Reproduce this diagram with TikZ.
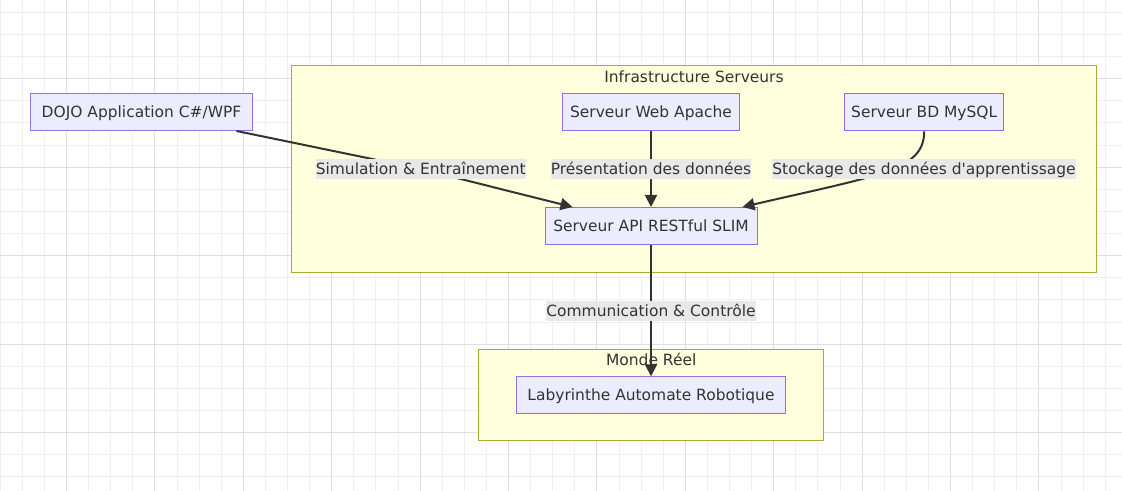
\documentclass[tikz,border=0pt]{standalone}
\usepackage{fontspec}
\setmainfont{DejaVu Sans}[Ligatures=TeXOff]
\usetikzlibrary{arrows.meta,calc}

\definecolor{gridminor}{HTML}{EFEFEF}
\definecolor{gridmajor}{HTML}{DEDEDE}
\definecolor{clusterfill}{HTML}{FFFFDE}
\definecolor{clusterline}{HTML}{AAAA33}
\definecolor{boxfill}{HTML}{ECECFF}
\definecolor{boxline}{HTML}{9370DB}
\definecolor{inkdark}{HTML}{333333}
\definecolor{labelbg}{HTML}{E8E8E8}

\begin{document}
\begin{tikzpicture}[x=0.75pt, y=-0.75pt,
    font=\fontsize{11.6pt}{13.9pt}\selectfont, text=inkdark,
    txt/.style={text height=10pt, text depth=1.5pt},
    cluster/.style={draw=clusterline, fill=clusterfill, line width=0.75pt},
    box/.style={txt, draw=boxline, fill=boxfill, line width=0.75pt,
                minimum height=27.75pt, inner sep=0pt},
    lbl/.style={txt, fill=labelbg, inner xsep=0pt, inner ysep=0pt, minimum height=15pt},
    edge/.style={draw=inkdark, line width=1.5pt, -{Triangle[length=9pt,width=9pt]}}]
    \useasboundingbox (0,0) rectangle (1122,491);

    % Background grid
    \foreach \k in {0,...,50}
        \draw[gridminor, line width=0.75pt] (0.2+22.1*\k,0) -- (0.2+22.1*\k,491);
    \foreach \k in {0,...,21}
        \draw[gridminor, line width=0.75pt] (0,12.3+22.125*\k) -- (1122,12.3+22.125*\k);
    \foreach \k in {3,7,...,47}
        \draw[gridmajor, line width=0.75pt] (0.2+22.1*\k,0) -- (0.2+22.1*\k,491);
    \foreach \k in {3,7,...,19}
        \draw[gridmajor, line width=0.75pt] (0,12.3+22.125*\k) -- (1122,12.3+22.125*\k);

    % Clusters
    \draw[cluster] (291,65.7) rectangle (1096.3,272.3);
    \node[txt, inner sep=0pt] (tinfra) at (694,76.7) {Infrastructure Serveurs};
    \draw[cluster] (478.3,349.3) rectangle (823.7,441);
    \node[txt, inner sep=0pt] (tmonde) at (651.2,360) {Monde Réel};

    % Nodes
    \node[box, minimum width=166.5pt] (dojo) at (141.5,112) {DOJO Application C\#/WPF};
    \node[box, minimum width=133pt] (apache) at (651,112.3) {Serveur Web Apache};
    \node[box, minimum width=119.25pt] (mysql) at (924.2,112.3) {Serveur BD MySQL};
    \node[box, minimum width=159pt] (api) at (651,226) {Serveur API RESTful SLIM};
    \node[box, minimum width=201.2pt] (laby) at (651,395.3) {Labyrinthe Automate Robotique};

    % Edges
    \coordinate (via1) at (420.7,169); % bend under the label
    \draw[edge] ($(dojo.south east)+(-16.5,0)$) -- (via1) -- ($(api.north west)+(28,0)$);
    \draw[edge] (apache) -- (api);
    \draw[edge] (mysql.south) .. controls +(0,39) and +(138,-32) .. ($(api.north east)+(-15,0)$);
    \draw[edge] (api) -- (laby);

    % Edge labels
    \node[lbl] (l1) at (via1) {Simulation \& Entraînement};
    \node[lbl] (l2) at (651,169) {Présentation des données};
    \node[lbl] (l3) at (924,169) {Stockage des données d'apprentissage};
    \node[lbl] (l4) at (651,311) {Communication \& Contrôle};

\end{tikzpicture}
\end{document}
